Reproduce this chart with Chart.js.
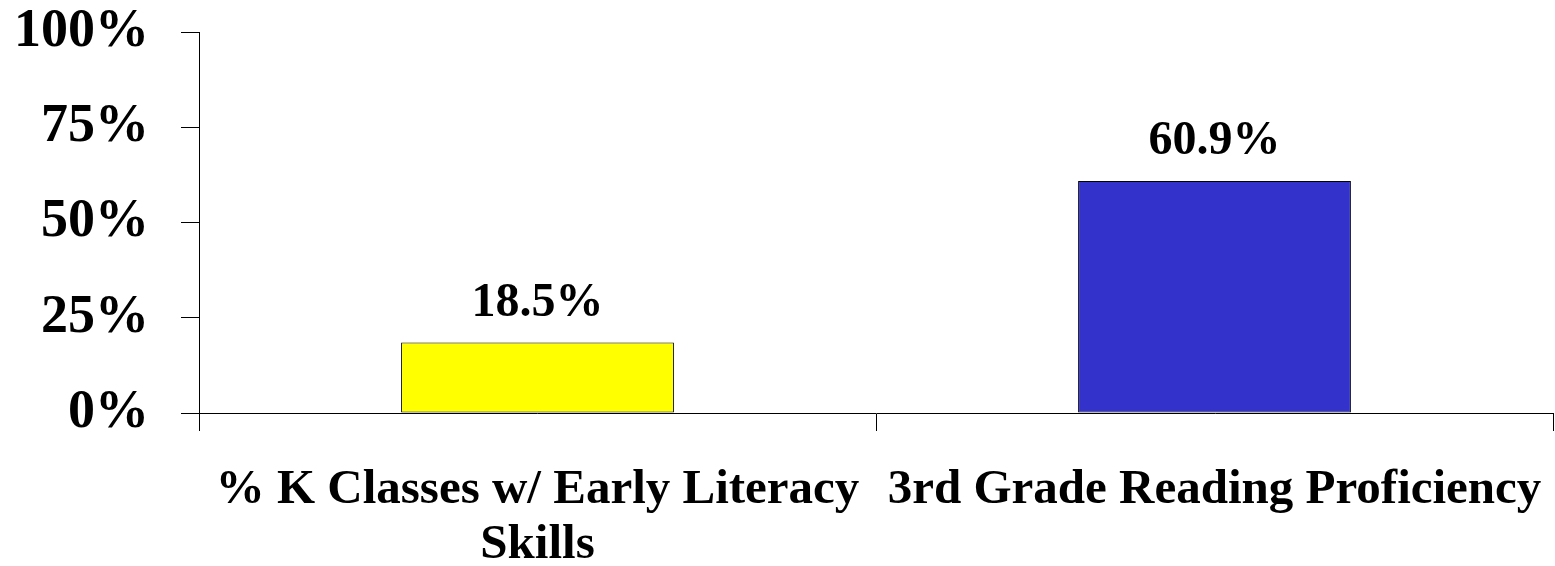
<!DOCTYPE html>
<html>
<head>
<meta charset="utf-8">
<script src="https://cdn.jsdelivr.net/npm/chart.js"></script>
<style>
  html, body { margin: 0; padding: 0; background: #fff; }
  #wrap { width: 1555px; height: 566px; }
</style>
</head>
<body>
<div id="wrap"><canvas id="c" width="1555" height="566"></canvas></div>
<script>
// data
const categories = [["% K Classes w/ Early Literacy", "Skills"], "3rd Grade Reading Proficiency"];
const values = [18.5, 60.9];
const barColors = ["#FFFF00", "#3333CC"];
const yTicks = [0, 25, 50, 75, 100];

const serif = "'Liberation Serif', 'Times New Roman', serif";

// value labels above each bar
const valueLabels = {
  id: "valueLabels",
  afterDatasetsDraw(chart) {
    const ctx = chart.ctx;
    const meta = chart.getDatasetMeta(0);
    ctx.save();
    ctx.font = "bold 48px " + serif;
    ctx.fillStyle = "#000";
    ctx.textAlign = "center";
    ctx.textBaseline = "alphabetic";
    meta.data.forEach((bar, i) => {
      ctx.fillText(values[i].toFixed(1) + "%", bar.x, bar.y - 27);
    });
    ctx.restore();
  }
};

new Chart(document.getElementById("c"), {
  type: "bar",
  data: {
    labels: categories,
    datasets: [{
      data: values,
      backgroundColor: barColors,
      borderColor: "#000",
      borderWidth: 1,
      borderSkipped: false,
      barPercentage: 0.403,
      categoryPercentage: 1
    }]
  },
  options: {
    responsive: false,
    animation: false,
    layout: { padding: { top: 32, right: 2, left: 0, bottom: 0 } },
    plugins: {
      legend: { display: false },
      tooltip: { enabled: false }
    },
    scales: {
      x: {
        grid: { drawOnChartArea: false, tickLength: 18, color: "#000", offset: true },
        border: { color: "#000", width: 1 },
        ticks: {
          color: "#000",
          font: { family: serif, size: 49, weight: "bold", lineHeight: 1.12 },
          maxRotation: 0,
          autoSkip: false,
          padding: 32
        },
        afterFit(scale) {
          scale.height = 153;
          scale.paddingLeft = 0;
          scale.paddingRight = 0;
        }
      },
      y: {
        min: 0,
        max: 100,
        afterBuildTicks(scale) { scale.ticks = yTicks.map(v => ({ value: v })); },
        grid: { drawOnChartArea: false, tickLength: 18, color: "#000" },
        border: { color: "#000", width: 1 },
        ticks: {
          color: "#000",
          font: { family: serif, size: 54, weight: "bold" },
          padding: 32,
          callback: v => v + "%"
        },
        afterFit(scale) {
          scale.width = 199;
          scale.paddingTop = 0;
          scale.paddingBottom = 0;
        }
      }
    }
  },
  plugins: [valueLabels]
});
</script>
</body>
</html>
